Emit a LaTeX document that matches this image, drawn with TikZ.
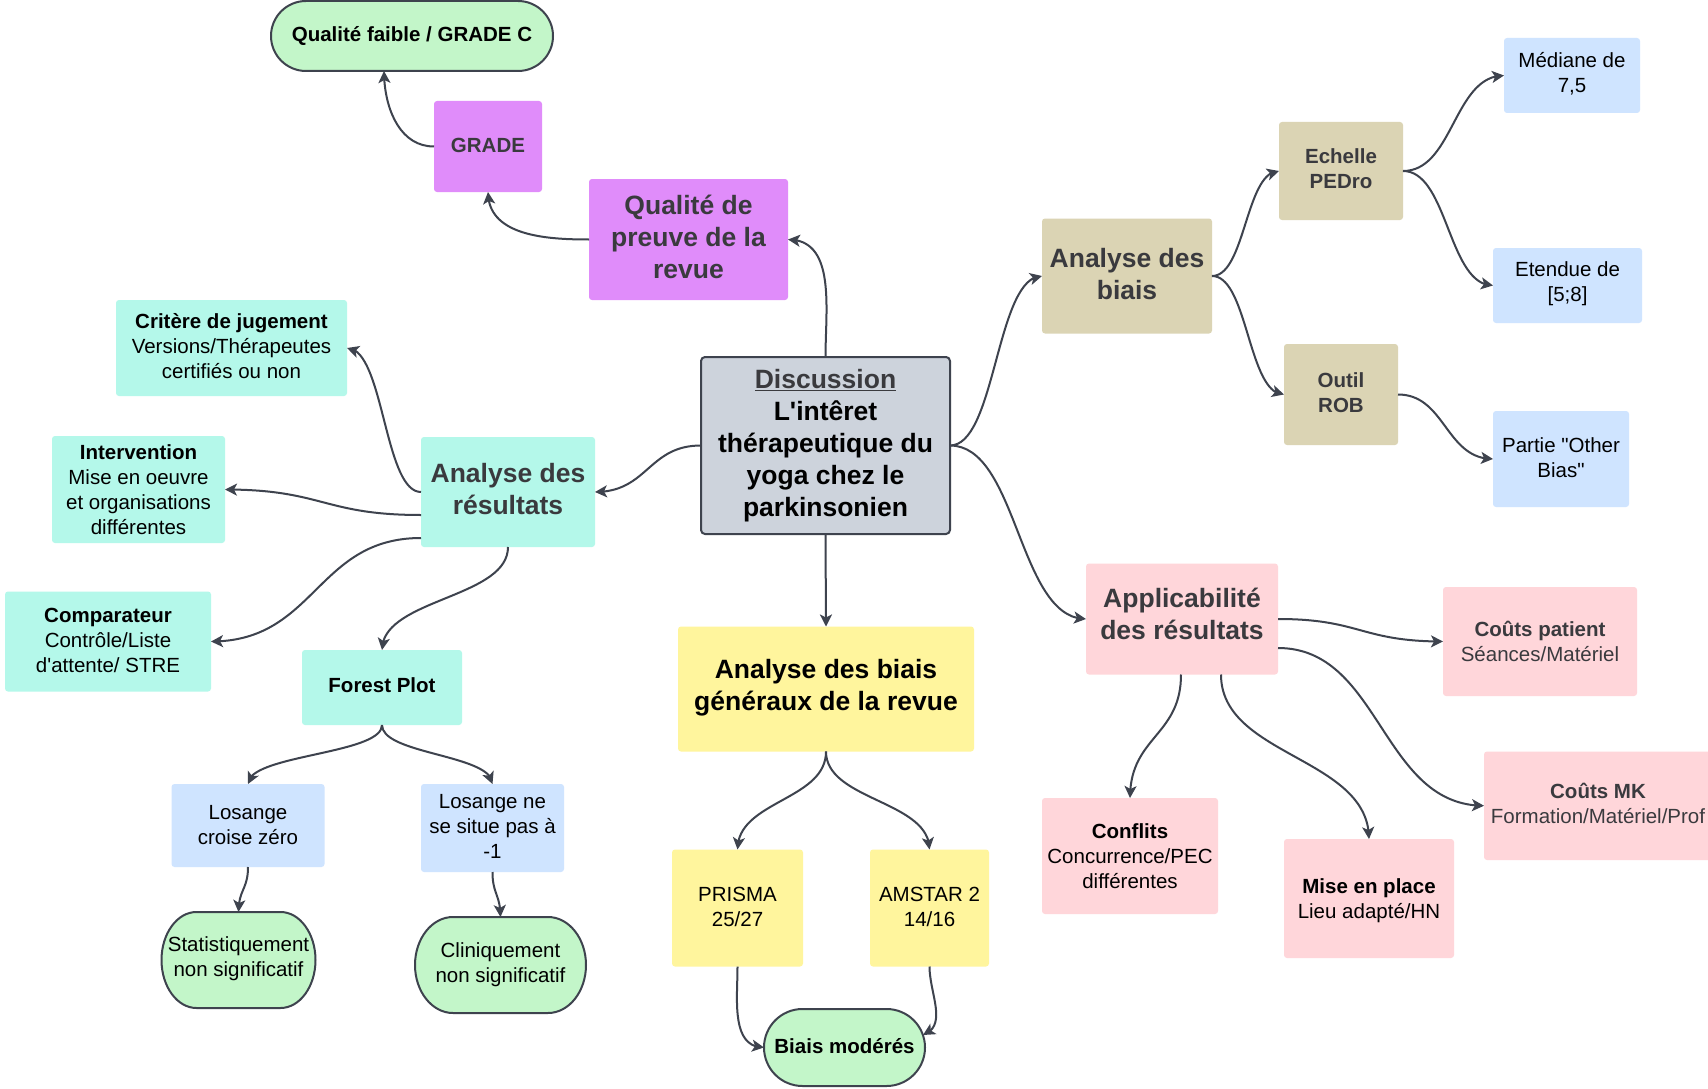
\documentclass[tikz,border=0pt]{standalone}
\usepackage{fontspec}
\setmainfont{Liberation Sans}[Ligatures=TeXOff]
\usetikzlibrary{arrows.meta,bending,calc}
\definecolor{cgreen}{RGB}{195,246,201}
\definecolor{cpurple}{RGB}{224,140,250}
\definecolor{cmint}{RGB}{180,248,234}
\definecolor{cgrayblue}{RGB}{205,211,220}
\definecolor{ctan}{RGB}{219,212,180}
\definecolor{cblue}{RGB}{207,228,255}
\definecolor{cyellow}{RGB}{255,245,157}
\definecolor{cpink}{RGB}{255,214,218}
\definecolor{cline}{RGB}{62,67,78}
\definecolor{dgray}{RGB}{58,58,62}
\newcommand\fsm{\fontsize{20.5}{25}\selectfont}
\newcommand\fbg{\fontsize{26.5}{32}\selectfont\bfseries}
\newcommand\dn[1]{\rule[-#1pt]{0pt}{#1pt}}
\newcommand\upr[1]{\rule{0pt}{#1pt}}
\newcommand\pillshape[5]{%
  \draw[pillline] ({#1-#3/2+#5},{#2+#4/2}) -- ({#1+#3/2-#5},{#2+#4/2})
    arc[start angle=90,end angle=-90,x radius=#5,y radius={#4/2}]
    -- ({#1-#3/2+#5},{#2-#4/2})
    arc[start angle=270,end angle=90,x radius=#5,y radius={#4/2}] -- cycle;}
\tikzset{
  box/.style={rectangle, rounded corners=3pt, inner sep=0pt, outer sep=0pt,
    align=center, font=\fsm, text=black},
  bigbox/.style={box, font=\fbg, text=dgray},
  pilltext/.style={rectangle, inner sep=0pt, outer sep=0pt, align=center, font=\fsm, text=black},
  pillline/.style={draw=cline, line width=2pt, fill=cgreen},
  conn/.style={draw=cline, line width=2pt, -{Stealth[length=12pt,width=12pt,inset=3pt,flex]}},
  hc/.style={to path={let \p1=(\tikztostart), \p2=(\tikztotarget) in
    .. controls ({(\x1+\x2)/2},\y1) and ({(\x1+\x2)/2},\y2) .. (\tikztotarget) \tikztonodes}},
  vc/.style={to path={let \p1=(\tikztostart), \p2=(\tikztotarget) in
    .. controls (\x1,{(\y1+\y2)/2}) and (\x2,{(\y1+\y2)/2}) .. (\tikztotarget) \tikztonodes}},
}
\begin{document}
\begin{tikzpicture}[x=1pt,y=1pt]
\clip (0,0) rectangle (1708,-1089);
\fill[white] (0,0) rectangle (1708,-1089);

% ---- pills (shapes)
\pillshape{412}{-36}{282}{70}{35}
\pillshape{238.5}{-960}{154}{96}{35}
\pillshape{500.5}{-965}{171}{96}{38}
\pillshape{844.5}{-1047.5}{161}{77}{38.5}

% ---- nodes
\node[pilltext, minimum width=282pt, minimum height=70pt, font=\fsm\bfseries] (qf) at (412,-36) {Qualité faible / GRADE C};
\node[box, fill=cpurple, minimum width=108pt, minimum height=91pt, font=\fsm\bfseries, text=dgray] (grade) at (488,-146.5) {GRADE\dn{2}};
\node[bigbox, fill=cpurple, minimum width=199pt, minimum height=121pt] (qpr) at (688.5,-239.5) {Qualité de\\preuve de la\\revue\dn{4.5}};

\node[box, fill=cmint, minimum width=231pt, minimum height=96pt] (crit) at (231.5,-348) {\textbf{Critère de jugement}\\Versions/Thérapeutes\\certifiés ou non\dn{4}};
\node[box, fill=cmint, minimum width=173pt, minimum height=107pt] (interv) at (138.5,-489.5) {\textbf{Intervention}\\Mise en oeuvre\\et organisations\\différentes};
\node[bigbox, fill=cmint, minimum width=174pt, minimum height=110pt] (adr) at (508,-492) {Analyse des\\résultats\dn{6.5}};
\node[box, fill=cmint, minimum width=206pt, minimum height=100pt] (comp) at (108,-641.5) {\textbf{Comparateur}\\Contrôle/Liste\\d'attente/ STRE\dn{2}};
\node[box, fill=cmint, minimum width=160pt, minimum height=75pt, font=\fsm\bfseries] (forest) at (382,-687.5) {Forest Plot\dn{4}};
\node[box, fill=cblue, minimum width=153pt, minimum height=83pt] (los1) at (248,-825.5) {Losange\\croise zéro\dn{2}};
\node[box, fill=cblue, minimum width=143pt, minimum height=88pt] (los2) at (492.5,-828) {Losange ne\\se situe pas à\\-1\dn{4}};
\node[pilltext, minimum width=154pt, minimum height=96pt] (stat) at (238.5,-960) {Statistiquement\\non significatif\dn{6.3}};
\node[pilltext, minimum width=171pt, minimum height=96pt] (clin) at (500.5,-965) {Cliniquement\\non significatif};

\node[box, fill=cgrayblue, draw=cline, line width=2pt, rounded corners=4pt, minimum width=249pt, minimum height=177pt, font=\fbg] (disc) at (825.5,-445.5) {{\color{dgray}\underline{Discussion}}\\L'intêret\\thérapeutique du\\yoga chez le\\parkinsonien};

\node[bigbox, fill=cyellow, minimum width=296pt, minimum height=125pt, text=black] (abg) at (826,-689) {Analyse des biais\\généraux de la revue\dn{7.8}};
\node[box, fill=cyellow, minimum width=131pt, minimum height=117pt] (prisma) at (737.5,-908) {PRISMA\\25/27\dn{2}};
\node[box, fill=cyellow, minimum width=119pt, minimum height=117pt] (amstar) at (929.5,-908) {AMSTAR 2\\14/16\dn{2}};
\node[pilltext, minimum width=161pt, minimum height=77pt, font=\fsm\bfseries] (bm) at (844.5,-1047.5) {Biais modérés\dn{4}};

\node[bigbox, fill=ctan, minimum width=170pt, minimum height=115pt] (adb) at (1127,-276) {Analyse des\\biais\dn{4.5}};
\node[box, fill=ctan, minimum width=124pt, minimum height=98pt, font=\fsm\bfseries, text=dgray] (pedro) at (1341,-171) {Echelle\\PEDro\dn{4}};
\node[box, fill=ctan, minimum width=114pt, minimum height=101pt, font=\fsm\bfseries, text=dgray] (rob) at (1341,-394.5) {Outil\\ROB\dn{4}};
\node[box, fill=cblue, minimum width=136pt, minimum height=75pt] (med) at (1572,-75.5) {Médiane de\\7,5\dn{7}};
\node[box, fill=cblue, minimum width=149pt, minimum height=75pt] (eten) at (1567.5,-285.5) {Etendue de\\{[5;8]}\dn{7.3}};
\node[box, fill=cblue, minimum width=136pt, minimum height=96pt] (other) at (1561,-459) {Partie "Other\\Bias"\dn{3}};

\node[bigbox, fill=cpink, minimum width=192pt, minimum height=111pt] (app) at (1182,-619) {Applicabilité\\des résultats\dn{11}};
\node[box, fill=cpink, minimum width=194pt, minimum height=109pt, text=dgray] (cp) at (1540,-641.5) {\textbf{Coûts patient}\\Séances/Matériel};
\node[box, fill=cpink, minimum width=228pt, minimum height=108.5pt, text=dgray] (mk) at (1598,-805.75) {\textbf{Coûts MK}\\Formation/Matériel/Prof\dn{4.5}};
\node[box, fill=cpink, minimum width=176pt, minimum height=116pt] (confl) at (1130,-856) {\textbf{Conflits}\\Concurrence/PEC\\différentes};
\node[box, fill=cpink, minimum width=170pt, minimum height=119pt] (mep) at (1369,-898.5) {\upr{19}\textbf{Mise en place}\\Lieu adapté/HN};

% ---- connectors
\draw[conn] (disc.north) to[out=90,in=0] (qpr.east);
\draw[conn] (qpr.west) to[out=180,in=-90] (grade.south);
\draw[conn] (grade.west) to[out=180,in=-90] ([xshift=-28pt]qf.south);
\draw[conn] (disc.west) to[hc] (adr.east);
\draw[conn] (adr.west) to[hc] (crit.east);
\draw[conn] ([yshift=-23pt]adr.west) to[hc] (interv.east);
\draw[conn] ([yshift=-46pt]adr.west) to[hc] (comp.east);
\draw[conn] (adr.south) to[vc] (forest.north);
\draw[conn] (forest.south) to[vc] (los1.north);
\draw[conn] (forest.south) to[vc] (los2.north);
\draw[conn] (los1.south) to[vc] (stat.north);
\draw[conn] (los2.south) to[vc] (clin.north);
\draw[conn] (disc.south) -- (abg.north);
\draw[conn] (abg.south) to[vc] (prisma.north);
\draw[conn] (abg.south) to[vc] (amstar.north);
\draw[conn] (prisma.south) to[out=-90,in=180] (bm.west);
\draw[conn] (amstar.south) to[out=-90,in=20] ([shift={(-2pt,12.5pt)}]bm.east);
\draw[conn] (disc.east) to[hc] (adb.west);
\draw[conn] (adb.east) to[hc] (pedro.west);
\draw[conn] (adb.east) to[hc] (rob.west);
\draw[conn] (pedro.east) to[hc] (med.west);
\draw[conn] (pedro.east) to[hc] (eten.west);
\draw[conn] (rob.east) to[hc] (other.west);
\draw[conn] (disc.east) to[hc] (app.west);
\draw[conn] (app.east) to[hc] (cp.west);
\draw[conn] ([yshift=-29pt]app.east) to[hc] (mk.west);
\draw[conn] ([xshift=-1pt]app.south) to[vc] (confl.north);
\draw[conn] ([xshift=39pt]app.south) to[vc] (mep.north);
\end{tikzpicture}
\end{document}
